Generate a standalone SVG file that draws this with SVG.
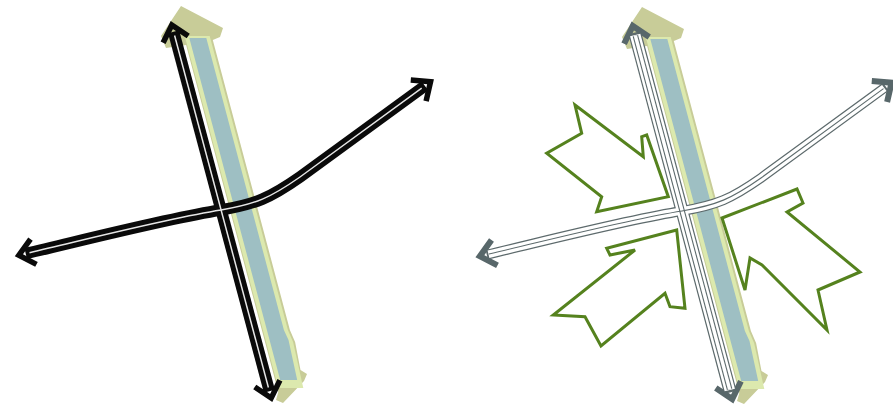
<svg xmlns="http://www.w3.org/2000/svg" xmlns:xlink="http://www.w3.org/1999/xlink" width="893" height="406" viewBox="0 0 893 406">
<style>
.tan{fill:#c8cc98}
.pale{fill:#dce9ae}
.blue{fill:#9ebfc3}
.rdK{fill:none;stroke:#0a0a0a;stroke-width:11.5}
.rdKc{fill:none;stroke:#e6e6e6;stroke-width:1.5}
.rdG{fill:none;stroke:#5d6a6c}
.rdW{fill:none;stroke:#fff}
.garrow{fill:none;stroke:#55821e;stroke-width:3;stroke-linejoin:miter}
</style>
<defs>
<marker id="chevK" markerUnits="userSpaceOnUse" viewBox="-25 -20 35 40" markerWidth="35" markerHeight="40" refX="-7" refY="0" orient="auto-start-reverse" overflow="visible">
<path d="M-15,-13 L0,0 L-15,13" fill="none" stroke="#0a0a0a" stroke-width="5.5" stroke-miterlimit="10"/>
</marker>
<marker id="chevG" markerUnits="userSpaceOnUse" viewBox="-25 -20 35 40" markerWidth="35" markerHeight="40" refX="-7" refY="0" orient="auto-start-reverse" overflow="visible">
<path d="M-15,-13 L0,0 L-15,13" fill="none" stroke="#58676a" stroke-width="6" stroke-miterlimit="10"/>
</marker>
<g id="river">
<polygon class="tan" points="181,6 223,28 220,37 212.8,40 289.9,330 295.1,342 300.5,370 307,374 304,381 283,403 276,400 278.3,392 186.1,45 166,48 161,36"/>
<polygon class="pale" points="184.7,36 209.7,36 287.9,330 293.1,342 303.3,388 278.3,388"/>
<polygon class="blue" points="189.3,38 206.3,38 283.9,330 288.5,340 297.2,380 280.2,380"/>
</g>
</defs>

<!-- Left panel -->
<g id="left-river"><use xlink:href="#river"/></g>
<g id="left-roads">
<path class="rdK" d="M173.6,31.7 L269.4,391.3" marker-start="url(#chevK)" marker-end="url(#chevK)"/>
<path class="rdK" d="M25.7,253.6 C100,236 170,218 221,210 C256,204 270,198 300,177 L424.9,85.8" marker-start="url(#chevK)" marker-end="url(#chevK)"/>
<path class="rdKc" d="M174.6,35.5 L268.4,387.5"/>
<path class="rdKc" d="M29.5,252.7 C100,236 170,218 221,210 C256,204 270,198 300,177 L421.7,88.1"/>
</g>

<!-- Right panel -->
<g id="right-river"><use xlink:href="#river" x="461" y="1"/></g>
<g id="right-roads" transform="translate(461,1)">
<path class="rdG" stroke-width="13" d="M173.6,31.7 L269.4,391.3" marker-start="url(#chevG)" marker-end="url(#chevG)"/>
<path class="rdG" stroke-width="10" d="M25.7,253.6 C100,236 170,218 221,210 C256,204 270,198 300,177 L424.9,85.8" marker-start="url(#chevG)" marker-end="url(#chevG)"/>
<path class="rdW" stroke-width="10.6" d="M174.2,34 L268.8,389"/>
<path class="rdW" stroke-width="7.6" d="M27.5,253.2 C100,236 170,218 221,210 C256,204 270,198 300,177 L423.3,87"/>
<path class="rdG" stroke-width="5.6" d="M174.4,34.8 L268.6,388.2"/>
<path class="rdW" stroke-width="3.4" d="M174.4,34.8 L268.6,388.2"/>
<path class="rdG" stroke-width="1.1" d="M28,253 C100,236 170,218 221,210 C256,204 270,198 300,177 L422.5,87.6"/>
</g>

<g id="arrow-nw"><polygon class="garrow" points="575,105 643.3,156.7 641.7,136.7 646.7,135 668.3,196.7 596.7,211.7 601.7,196.7 546.7,153.3 581.7,133.3"/></g>
<g id="arrow-sw"><polygon class="garrow" points="676.7,230 606.7,248.3 610,255 635,250 553.3,315 585,316.7 601,346 665,293.3 670,306.7 685,308.3"/></g>
<g id="arrow-se"><polygon class="garrow" points="722,218 797,189 803,203 787,212 860,272 818,290 827,330 762,265 750,258 745,290"/></g>
</svg>
